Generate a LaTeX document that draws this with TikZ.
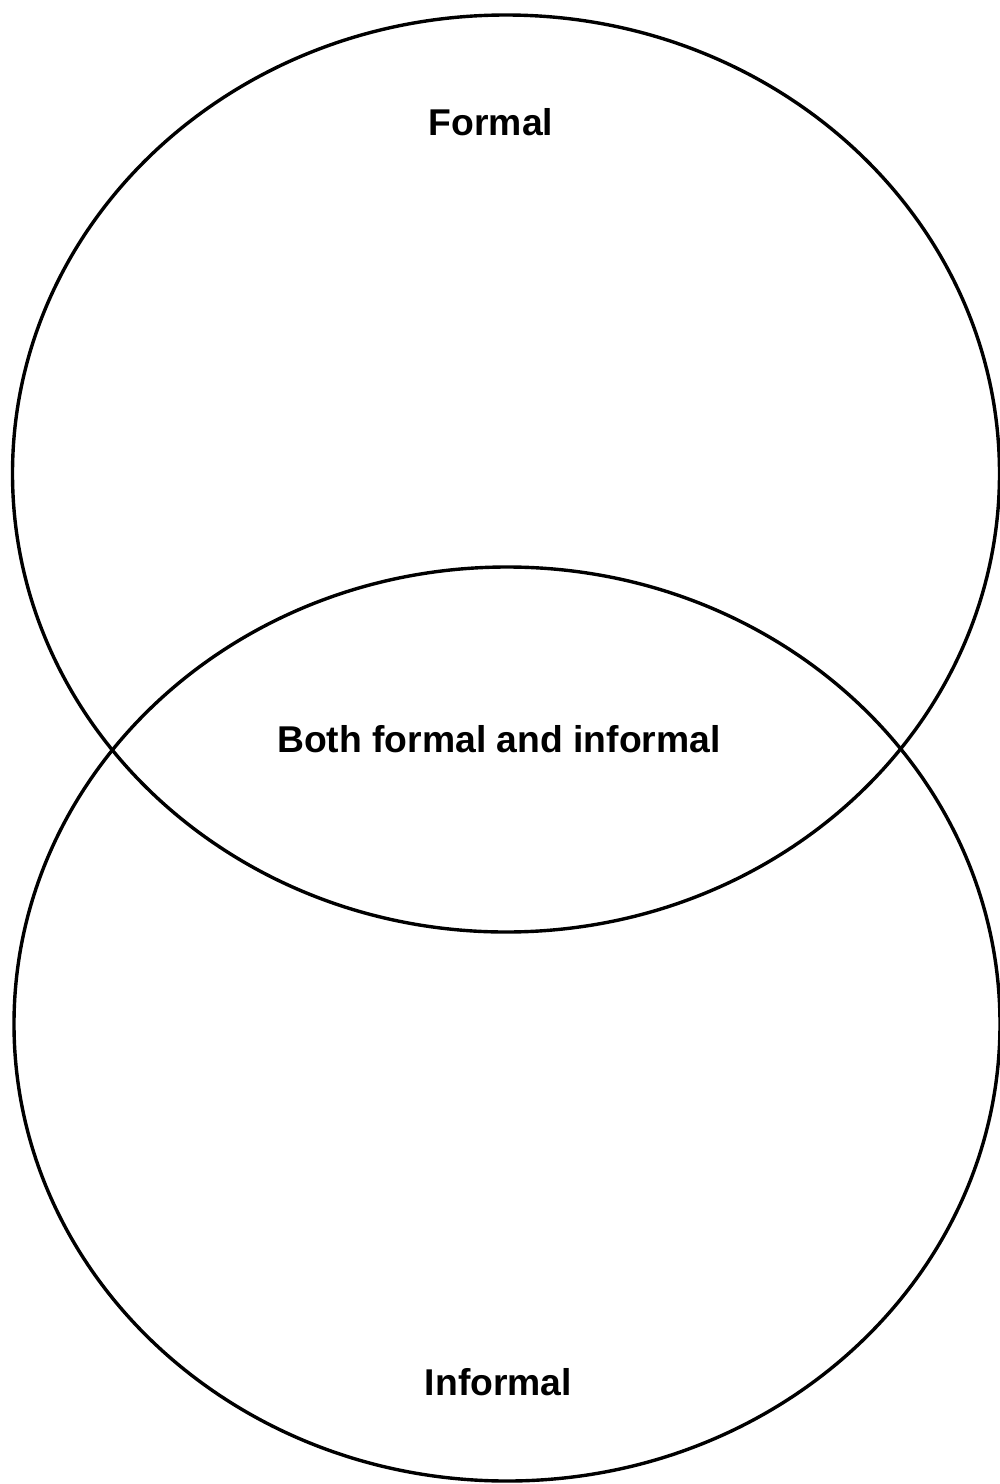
\documentclass[tikz,border=0pt]{standalone}
\usepackage{fontspec}
\setmainfont{Liberation Sans}
\begin{document}
\begin{tikzpicture}[x=1pt,y=-1pt,
  ring/.style={draw=black,line width=3.4pt},
  label/.style={anchor=base,inner sep=0pt,font=\fontsize{37.3}{40}\selectfont\bfseries}]
\useasboundingbox (0,0) rectangle (1000,1484);
\draw[ring] (506,473.5) ellipse [x radius=493.5, y radius=458.5];
\draw[ring] (507,1024) ellipse [x radius=493, y radius=457];
\node[label] (formal) at (491,135) {Formal};
\node[label] (both) at (499,752) {Both formal and informal};
\node[label] (informal) at (498.5,1395) {Informal};
\end{tikzpicture}
\end{document}
